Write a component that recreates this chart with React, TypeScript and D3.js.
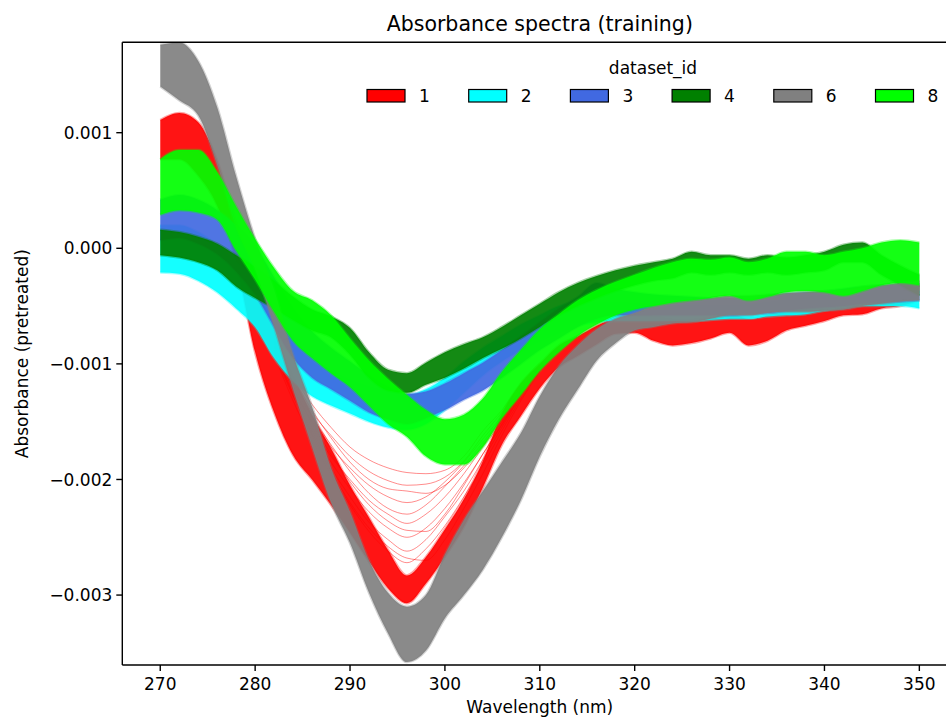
import React from "react";
import * as d3 from "d3";

// ---- data (absorbance values in units of 1e-3) ----
const SCALE = 1e-3;
const wavelengths = [270,272,274,276,278,280,282,284,286,288,290,292,294,296,298,300,302,304,306,308,310,312,314,316,318,320,322,324,326,328,330,332,334,336,338,340,342,344,346,348,350];

const datasetIds = ["1", "2", "3", "4", "6", "8"];
const datasetColors = ["#ff0000", "#00ffff", "#4169e1", "#008000", "#808080", "#00ff00"];

// upper / lower envelope of each dataset's bundle of spectra
const ds1Upper = [1.11,1.17,1.09,0.76,0.23,-0.27,-0.71,-1.10,-1.44,-1.73,-2.05,-2.33,-2.61,-2.83,-2.67,-2.43,-2.17,-1.84,-1.43,-1.17,-1.00,-0.84,-0.76,-0.67,-0.60,-0.57,-0.58,-0.61,-0.61,-0.59,-0.56,-0.61,-0.58,-0.50,-0.47,-0.45,-0.43,-0.43,-0.38,-0.37,-0.32];
const ds1Lower = [0.77,0.77,0.63,0.37,-0.12,-0.90,-1.42,-1.79,-2.00,-2.22,-2.46,-2.71,-2.94,-3.07,-2.90,-2.67,-2.41,-2.07,-1.70,-1.45,-1.21,-1.03,-0.93,-0.83,-0.74,-0.73,-0.80,-0.84,-0.82,-0.78,-0.73,-0.84,-0.80,-0.71,-0.67,-0.63,-0.58,-0.57,-0.52,-0.50,-0.45];

const ds2Upper = [0.20,0.20,0.14,0.03,-0.12,-0.25,-0.55,-0.78,-0.95,-1.06,-1.14,-1.20,-1.24,-1.27,-1.22,-1.12,-0.98,-0.86,-0.76,-0.66,-0.58,-0.50,-0.47,-0.47,-0.47,-0.48,-0.49,-0.50,-0.50,-0.50,-0.50,-0.49,-0.47,-0.45,-0.43,-0.41,-0.39,-0.37,-0.37,-0.37,-0.37];
const ds2Lower = [-0.21,-0.22,-0.28,-0.38,-0.52,-0.68,-0.95,-1.15,-1.28,-1.36,-1.43,-1.50,-1.55,-1.57,-1.52,-1.40,-1.25,-1.10,-0.98,-0.88,-0.80,-0.73,-0.67,-0.64,-0.63,-0.63,-0.63,-0.63,-0.63,-0.62,-0.61,-0.61,-0.59,-0.58,-0.57,-0.54,-0.52,-0.50,-0.50,-0.50,-0.52];

const ds3Upper = [0.42,0.46,0.42,0.33,0.20,0.02,-0.25,-0.52,-0.72,-0.86,-0.98,-1.10,-1.20,-1.26,-1.24,-1.17,-1.08,-0.99,-0.88,-0.76,-0.64,-0.52,-0.42,-0.30,-0.35,-0.38,-0.40,-0.41,-0.42,-0.43,-0.43,-0.43,-0.41,-0.39,-0.38,-0.37,-0.35,-0.33,-0.32,-0.31,-0.30];
const ds3Lower = [0.07,0.09,0.04,-0.05,-0.20,-0.40,-0.68,-0.95,-1.12,-1.22,-1.32,-1.42,-1.48,-1.52,-1.47,-1.40,-1.31,-1.23,-1.12,-1.00,-0.88,-0.78,-0.68,-0.61,-0.58,-0.58,-0.58,-0.58,-0.58,-0.58,-0.58,-0.57,-0.56,-0.54,-0.52,-0.51,-0.50,-0.48,-0.47,-0.46,-0.45];

const ds4Upper = [0.16,0.14,0.10,0.04,-0.06,-0.16,-0.28,-0.42,-0.53,-0.59,-0.69,-0.90,-1.05,-1.08,-0.99,-0.90,-0.83,-0.77,-0.68,-0.58,-0.48,-0.38,-0.30,-0.24,-0.19,-0.15,-0.12,-0.09,-0.03,-0.06,-0.06,-0.09,-0.06,-0.08,-0.06,-0.03,0.03,0.05,-0.06,-0.15,-0.23];
const ds4Lower = [-0.06,-0.08,-0.12,-0.19,-0.33,-0.43,-0.52,-0.62,-0.71,-0.77,-0.92,-1.12,-1.23,-1.25,-1.18,-1.12,-1.04,-0.95,-0.87,-0.78,-0.68,-0.58,-0.50,-0.43,-0.37,-0.32,-0.28,-0.26,-0.21,-0.23,-0.21,-0.23,-0.21,-0.23,-0.21,-0.19,-0.12,-0.12,-0.23,-0.32,-0.41];

const ds6Upper = [1.76,1.78,1.62,1.22,0.62,0.08,-0.36,-0.92,-1.37,-1.90,-2.28,-2.70,-2.98,-3.10,-3.00,-2.65,-2.35,-2.10,-1.85,-1.60,-1.28,-1.02,-0.84,-0.70,-0.61,-0.56,-0.50,-0.47,-0.45,-0.43,-0.41,-0.41,-0.40,-0.39,-0.38,-0.37,-0.36,-0.33,-0.32,-0.30,-0.28];
const ds6Lower = [1.40,1.28,1.15,0.72,0.18,-0.18,-0.68,-1.22,-1.72,-2.20,-2.55,-2.98,-3.33,-3.58,-3.48,-3.20,-3.00,-2.78,-2.50,-2.18,-1.80,-1.48,-1.22,-0.97,-0.82,-0.71,-0.68,-0.65,-0.64,-0.61,-0.58,-0.58,-0.56,-0.55,-0.55,-0.54,-0.53,-0.50,-0.48,-0.46,-0.45];

const ds8Upper = [0.77,0.85,0.85,0.66,0.36,0.08,-0.17,-0.37,-0.45,-0.58,-0.78,-0.97,-1.13,-1.27,-1.40,-1.48,-1.44,-1.30,-1.07,-0.88,-0.70,-0.57,-0.45,-0.36,-0.29,-0.23,-0.17,-0.12,-0.09,-0.10,-0.08,-0.12,-0.09,-0.03,-0.03,-0.06,-0.03,0.00,0.05,0.07,0.05];
const ds8Lower = [0.29,0.33,0.31,0.25,-0.02,-0.27,-0.55,-0.80,-0.95,-1.08,-1.20,-1.36,-1.52,-1.63,-1.80,-1.87,-1.87,-1.72,-1.47,-1.27,-1.06,-0.90,-0.76,-0.66,-0.58,-0.53,-0.50,-0.47,-0.45,-0.43,-0.41,-0.45,-0.42,-0.38,-0.37,-0.38,-0.41,-0.37,-0.32,-0.30,-0.32];

// individual dataset-1 spectra that lie apart from the main bundle
const outlierWavelengths = [282,284,286,288,290,292,294,296,298,300,302,304,306,308,310];
const ds1OutlierA = [-0.78,-1.10,-1.35,-1.55,-1.72,-1.83,-1.90,-1.94,-1.95,-1.92,-1.80,-1.58,-1.40,-1.17,-0.99];
const ds1OutlierB = [-0.80,-1.15,-1.42,-1.62,-1.80,-1.93,-2.01,-2.05,-2.04,-1.98,-1.84,-1.62,-1.42,-1.20,-1.00];
const ds1OutlierC = [-0.82,-1.20,-1.50,-1.72,-1.90,-2.05,-2.15,-2.20,-2.15,-2.02,-1.85,-1.65,-1.45,-1.22,-1.02];
const ds1OutlierD = [-0.85,-1.22,-1.55,-1.80,-2.00,-2.18,-2.30,-2.38,-2.30,-2.15,-1.95,-1.72,-1.50,-1.25,-1.03];
const ds1OutlierE = [-0.88,-1.25,-1.58,-1.85,-2.08,-2.28,-2.42,-2.50,-2.42,-2.25,-2.03,-1.78,-1.52,-1.26,-1.04];
const ds1OutlierF = [-0.90,-1.28,-1.60,-1.90,-2.15,-2.37,-2.52,-2.62,-2.52,-2.32,-2.10,-1.83,-1.55,-1.28,-1.05];
const ds1OutlierG = [-0.86,-1.18,-1.46,-1.70,-1.93,-2.12,-2.25,-2.30,-2.22,-2.06,-1.88,-1.68,-1.47,-1.24,-1.03];
const ds1OutlierH = [-0.92,-1.32,-1.66,-1.96,-2.22,-2.45,-2.62,-2.72,-2.60,-2.40,-2.15,-1.88,-1.58,-1.30,-1.06];
const ds1OutlierI = [-0.80,-1.12,-1.40,-1.64,-1.85,-2.00,-2.08,-2.10,-2.12,-2.05,-1.90,-1.70,-1.48,-1.23,-1.01];
const ds1OutlierJ = [-0.84,-1.20,-1.52,-1.78,-2.02,-2.22,-2.36,-2.44,-2.45,-2.30,-2.05,-1.78,-1.53,-1.27,-1.04];
const ds1OutlierK = [-0.88,-1.27,-1.62,-1.93,-2.20,-2.42,-2.58,-2.68,-2.70,-2.52,-2.25,-1.95,-1.62,-1.32,-1.07];

const xTicks = [270, 280, 290, 300, 310, 320, 330, 340, 350];
const yTicks = [-0.003, -0.002, -0.001, 0.0, 0.001];

const bands = [
  { id: datasetIds[0], color: datasetColors[0], upper: ds1Upper, lower: ds1Lower, outliers: [ds1OutlierA, ds1OutlierB, ds1OutlierC, ds1OutlierD, ds1OutlierE, ds1OutlierF, ds1OutlierG, ds1OutlierH, ds1OutlierI, ds1OutlierJ, ds1OutlierK] },
  { id: datasetIds[1], color: datasetColors[1], upper: ds2Upper, lower: ds2Lower, outliers: [] },
  { id: datasetIds[2], color: datasetColors[2], upper: ds3Upper, lower: ds3Lower, outliers: [] },
  { id: datasetIds[3], color: datasetColors[3], upper: ds4Upper, lower: ds4Lower, outliers: [] },
  { id: datasetIds[4], color: datasetColors[4], upper: ds6Upper, lower: ds6Lower, outliers: [] },
  { id: datasetIds[5], color: datasetColors[5], upper: ds8Upper, lower: ds8Lower, outliers: [] },
];

const W = 946, H = 721;
const M = { left: 122.3, right: 957.3, top: 42.3, bottom: 665 };
const FONT = "DejaVu Sans, sans-serif";

export default function App() {
  const x = d3.scaleLinear().domain([266, 354]).range([M.left, M.right]);
  const y = d3.scaleLinear().domain([-0.003605, 0.001782]).range([M.bottom, M.top]);

  const area = d3.area<{ w: number; lo: number; hi: number }>()
    .x(d => x(d.w)).y0(d => y(d.lo)).y1(d => y(d.hi))
    .curve(d3.curveMonotoneX);
  const line = d3.line<{ w: number; v: number }>()
    .x(d => x(d.w)).y(d => y(d.v)).curve(d3.curveMonotoneX);

  const yFmt = (v: number) => {
    const s = Math.abs(v).toFixed(3);
    return (v < -1e-9 ? "\u2212" : "") + s;
  };

  return (
    <svg width={W} height={H} style={{ position: "absolute", left: 0, top: 0, background: "#fff" }}>
      <defs>
        <clipPath id="plotclip">
          <rect x={M.left} y={M.top} width={M.right - M.left} height={M.bottom - M.top} />
        </clipPath>
      </defs>
      <rect x={0} y={0} width={W} height={H} fill="#fff" />
      <g clipPath="url(#plotclip)">
        {bands.map(b => {
          const pts = wavelengths.map((w, i) => ({ w, lo: b.lower[i] * SCALE, hi: b.upper[i] * SCALE }));
          const up = wavelengths.map((w, i) => ({ w, v: b.upper[i] * SCALE }));
          const lo = wavelengths.map((w, i) => ({ w, v: b.lower[i] * SCALE }));
          return (
            <g key={b.id}>
              <path d={area(pts) || ""} fill={b.color} fillOpacity={0.92} stroke="none" />
              <path d={line(up) || ""} fill="none" stroke={b.color} strokeOpacity={0.35} strokeWidth={2.5} />
              <path d={line(lo) || ""} fill="none" stroke={b.color} strokeOpacity={0.35} strokeWidth={2.5} />
              {b.outliers.map((o, k) => (
                <path key={k}
                  d={line(outlierWavelengths.map((w, i) => ({ w, v: o[i] * SCALE }))) || ""}
                  fill="none" stroke={b.color} strokeOpacity={0.45} strokeWidth={1} />
              ))}
            </g>
          );
        })}
      </g>

      {/* spines */}
      <line x1={M.left} x2={M.left} y1={M.top} y2={M.bottom} stroke="#000" strokeWidth={1.4} />
      <line x1={M.left} x2={M.right} y1={M.bottom} y2={M.bottom} stroke="#000" strokeWidth={1.4} />
      <line x1={M.left} x2={M.right} y1={M.top} y2={M.top} stroke="#000" strokeWidth={1.4} />
      <line x1={M.right} x2={M.right} y1={M.top} y2={M.bottom} stroke="#000" strokeWidth={1.4} />

      {/* x axis */}
      {xTicks.map(t => (
        <g key={t}>
          <line x1={x(t)} x2={x(t)} y1={M.bottom} y2={M.bottom + 6} stroke="#000" strokeWidth={1.4} />
          <text x={x(t)} y={M.bottom + 25} textAnchor="middle" fontFamily={FONT} fontSize={17} fill="#000">{t}</text>
        </g>
      ))}
      {/* y axis */}
      {yTicks.map(t => (
        <g key={t}>
          <line x1={M.left - 6} x2={M.left} y1={y(t)} y2={y(t)} stroke="#000" strokeWidth={1.4} />
          <text x={M.left - 10} y={y(t)} dy="0.36em" textAnchor="end" fontFamily={FONT} fontSize={17} fill="#000">{yFmt(t)}</text>
        </g>
      ))}

      <text x={(M.left + M.right) / 2} y={713} textAnchor="middle" fontFamily={FONT} fontSize={17} fill="#000">Wavelength (nm)</text>
      <text transform={`translate(28, ${(M.top + M.bottom) / 2}) rotate(-90)`} textAnchor="middle" fontFamily={FONT} fontSize={17} fill="#000">Absorbance (pretreated)</text>
      <text x={(M.left + M.right) / 2} y={31} textAnchor="middle" fontFamily={FONT} fontSize={20.5} fill="#000">Absorbance spectra (training)</text>

      {/* legend */}
      <text x={653} y={74} textAnchor="middle" fontFamily={FONT} fontSize={17} fill="#000">dataset_id</text>
      {bands.map((b, i) => {
        const lx = 367 + i * 101.7;
        return (
          <g key={b.id}>
            <rect x={lx} y={89.5} width={38} height={12.5} fill={b.color} stroke="#000" strokeWidth={1.2} />
            <text x={lx + 52} y={102} fontFamily={FONT} fontSize={17} fill="#000">{b.id}</text>
          </g>
        );
      })}
    </svg>
  );
}
